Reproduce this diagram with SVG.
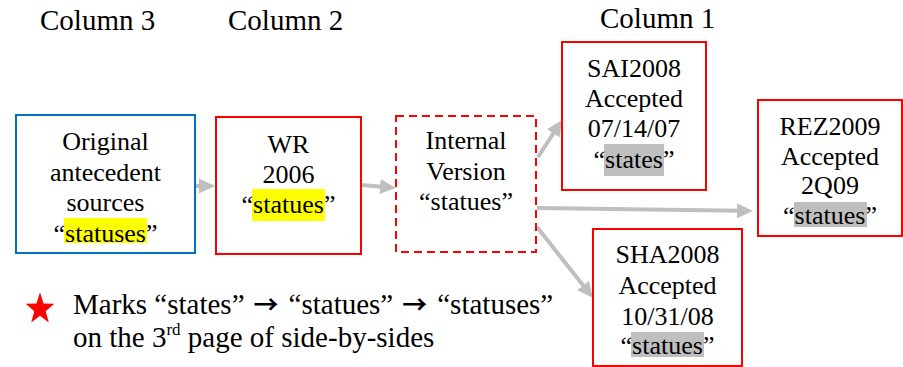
<svg xmlns="http://www.w3.org/2000/svg" width="903" height="367" viewBox="0 0 903 367">
<style>
  text { font-family: 'Liberation Serif', Tinos, 'Times New Roman', 'DejaVu Serif', serif; fill: #000; }
  .hdr { font-size: 29px; }
  .box { font-size: 26px; text-anchor: middle; }
  .leg { font-size: 29px; }
  .red { fill: #fff; stroke: #ff0000; stroke-width: 2; }
  .blue { fill: #fff; stroke: #0070c0; stroke-width: 2; }
  .dash { fill: #fff; stroke: #ff0000; stroke-width: 2; stroke-dasharray: 8 5; }
  .yl { fill: #ffff00; }
  .gr { fill: #bfbfbf; }
  .conn { stroke: #bfbfbf; stroke-width: 4; fill: none; marker-end: url(#ah); }
  .arr { font-family: 'Noto Sans CJK SC', 'DejaVu Sans', sans-serif; font-weight: bold; font-size: 25px; }
</style>
<defs>
  <marker id="ah" markerUnits="userSpaceOnUse" markerWidth="16" markerHeight="16" refX="4" refY="7.5" orient="auto" viewBox="0 0 16 15">
    <path d="M0,0 L16,7.5 L0,15 z" fill="#bfbfbf"/>
  </marker>
</defs>

<g id="headers">
  <text class="hdr" x="40" y="30">Column 3</text>
  <text class="hdr" x="228" y="30">Column 2</text>
  <text class="hdr" x="600" y="28">Column 1</text>
</g>

<g id="connectors">
  <line class="conn" x1="196" y1="186" x2="203" y2="186"/>
  <line class="conn" x1="362" y1="185" x2="384" y2="186.9"/>
  <line class="conn" x1="538" y1="157" x2="555.5" y2="130.1"/>
  <line class="conn" x1="537" y1="208" x2="741" y2="210.8"/>
  <line class="conn" x1="537" y1="227" x2="585.6" y2="288.6"/>
</g>

<g id="original">
  <rect class="blue" x="16" y="115" width="179" height="138"/>
  <rect class="yl" x="64" y="218" width="83" height="25"/>
  <text class="box" x="105.5" y="150">Original</text>
  <text class="box" x="105.5" y="180.5">antecedent</text>
  <text class="box" x="105.5" y="211">sources</text>
  <text class="box" x="105.5" y="241.5">“statuses”</text>
</g>

<g id="wr2006">
  <rect class="red" x="216" y="117" width="145" height="137"/>
  <rect class="yl" x="252" y="189" width="73" height="32"/>
  <text class="box" x="288.5" y="153">WR</text>
  <text class="box" x="288.5" y="183">2006</text>
  <text class="box" x="288.5" y="213">“statues”</text>
</g>

<g id="internal">
  <rect class="dash" x="396" y="116" width="140" height="136"/>
  <text class="box" x="466" y="149">Internal</text>
  <text class="box" x="466" y="180">Version</text>
  <text class="box" x="466" y="210">“statues”</text>
</g>

<g id="sai2008">
  <rect class="red" x="562" y="42" width="144" height="148"/>
  <rect class="gr" x="604" y="144" width="60" height="32"/>
  <text class="box" x="634" y="77">SAI2008</text>
  <text class="box" x="634" y="107">Accepted</text>
  <text class="box" x="634" y="137">07/14/07</text>
  <text class="box" x="634" y="168">“states”</text>
</g>

<g id="rez2009">
  <rect class="red" x="758" y="100" width="144" height="136"/>
  <rect class="gr" x="794" y="202" width="73" height="25"/>
  <text class="box" x="830" y="135">REZ2009</text>
  <text class="box" x="830" y="164.5">Accepted</text>
  <text class="box" x="830" y="194">2Q09</text>
  <text class="box" x="830" y="223.5">“statues”</text>
</g>

<g id="sha2008">
  <rect class="red" x="593" y="229" width="149" height="137"/>
  <rect class="gr" x="631" y="332" width="73" height="25"/>
  <text class="box" x="667.5" y="263">SHA2008</text>
  <text class="box" x="667.5" y="294">Accepted</text>
  <text class="box" x="667.5" y="325">10/31/08</text>
  <text class="box" x="667.5" y="354">“statues”</text>
</g>

<g id="legend">
  <path transform="translate(40,309) scale(1,1.12)" fill="#ff0000" d="M0,-15 L3.5,-4.9 L14.3,-4.6 L5.7,1.9 L8.8,12.1 L0,6 L-8.8,12.1 L-5.7,1.9 L-14.3,-4.6 L-3.5,-4.9 Z"/>
  <text class="leg" x="73" y="314">Marks “states”<tspan class="arr" dx="9">→</tspan><tspan dx="10">“statues”</tspan><tspan class="arr" dx="9">→</tspan><tspan dx="10">“statuses”</tspan></text>
  <text class="leg" x="73" y="347">on the 3<tspan font-size="17" dy="-12">rd</tspan><tspan dy="12"> page of side-by-sides</tspan></text>
</g>
</svg>
